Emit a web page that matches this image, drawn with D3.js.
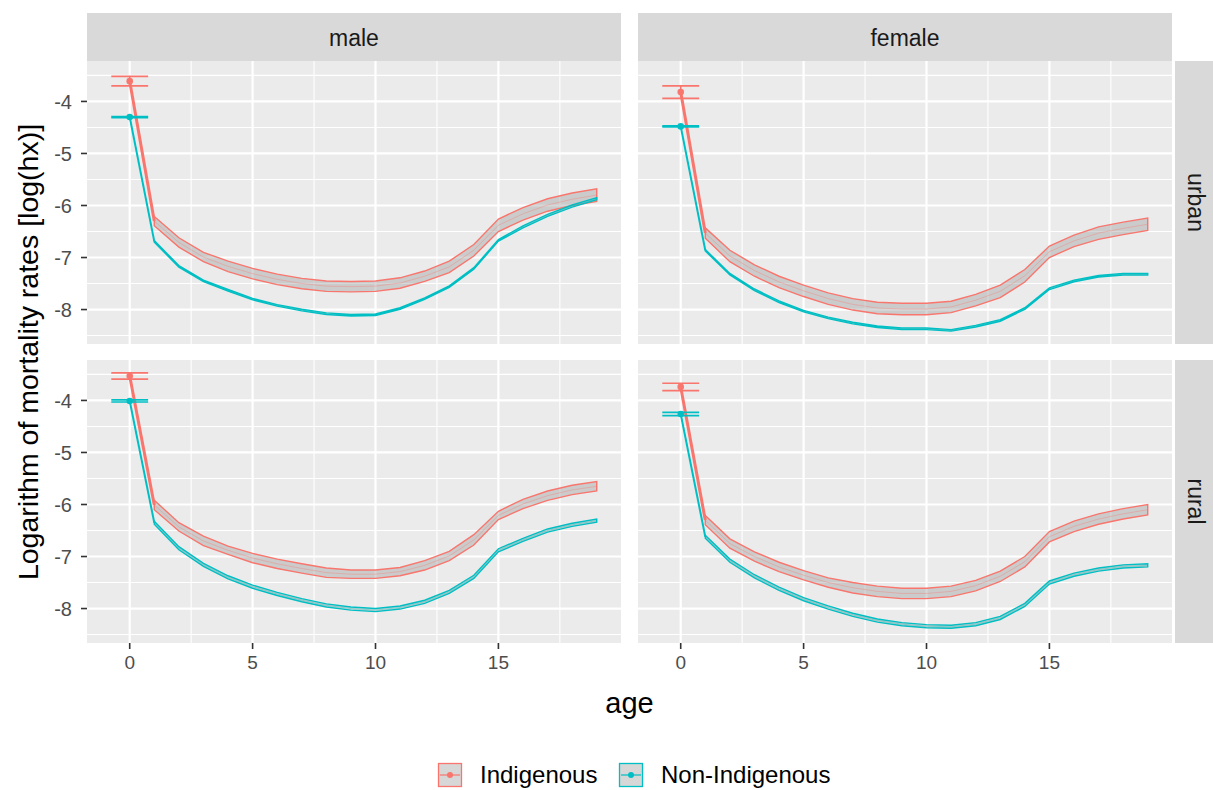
<!DOCTYPE html>
<html>
<head>
<meta charset="utf-8">
<script src="https://cdn.jsdelivr.net/npm/d3@7"></script>
<style>
  body { margin: 0; background: #fff; }
  text { font-family: "Liberation Sans", Arial, sans-serif; }
</style>
</head>
<body>
<div id="chart"></div>
<script>
// ---- data ----
var ages = [0, 1, 2, 3, 4, 5, 6, 7, 8, 9, 10, 11, 12, 13, 14, 15, 16, 17, 18, 19];
var sexes = ["male", "female"];
var areas = ["urban", "rural"];
var groups = ["Indigenous", "Non-Indigenous"];

// mean log(hx) per age, and half width of the interval (age 0 = error bar)
var maleUrbanInd = [-3.61, -6.30, -6.71, -6.99, -7.17, -7.31, -7.42, -7.50, -7.55, -7.56, -7.55, -7.49, -7.36, -7.18, -6.86, -6.38, -6.16, -5.99, -5.88, -5.80];
var maleUrbanIndSe = [0.09, 0.09, 0.09, 0.09, 0.10, 0.10, 0.10, 0.10, 0.10, 0.10, 0.10, 0.10, 0.10, 0.11, 0.11, 0.12, 0.12, 0.12, 0.12, 0.12];
var maleUrbanNon = [-4.30, -6.69, -7.17, -7.45, -7.63, -7.80, -7.92, -8.01, -8.08, -8.11, -8.10, -7.98, -7.79, -7.56, -7.21, -6.67, -6.41, -6.19, -6.01, -5.87];
var maleUrbanNonSe = [0.01, 0.015, 0.015, 0.015, 0.015, 0.015, 0.015, 0.015, 0.015, 0.015, 0.015, 0.015, 0.015, 0.015, 0.015, 0.015, 0.02, 0.02, 0.02, 0.02];

var femaleUrbanInd = [-3.82, -6.53, -6.97, -7.25, -7.47, -7.64, -7.79, -7.90, -7.97, -7.99, -7.99, -7.95, -7.82, -7.65, -7.35, -6.89, -6.68, -6.53, -6.44, -6.36];
var femaleUrbanIndSe = [0.12, 0.10, 0.11, 0.11, 0.11, 0.11, 0.11, 0.11, 0.11, 0.11, 0.11, 0.11, 0.11, 0.12, 0.12, 0.11, 0.11, 0.12, 0.12, 0.12];
var femaleUrbanNon = [-4.48, -6.86, -7.32, -7.62, -7.85, -8.03, -8.16, -8.26, -8.33, -8.37, -8.37, -8.40, -8.32, -8.21, -7.98, -7.60, -7.45, -7.36, -7.32, -7.32];
var femaleUrbanNonSe = [0.01, 0.015, 0.015, 0.015, 0.015, 0.015, 0.015, 0.015, 0.015, 0.015, 0.015, 0.015, 0.015, 0.015, 0.015, 0.015, 0.015, 0.015, 0.015, 0.015];

var maleRuralInd = [-3.53, -6.01, -6.43, -6.70, -6.88, -7.03, -7.14, -7.23, -7.31, -7.34, -7.34, -7.29, -7.17, -6.99, -6.68, -6.21, -5.99, -5.83, -5.72, -5.65];
var maleRuralIndSe = [0.06, 0.09, 0.08, 0.09, 0.08, 0.09, 0.09, 0.09, 0.09, 0.08, 0.08, 0.08, 0.09, 0.09, 0.10, 0.08, 0.09, 0.09, 0.09, 0.09];
var maleRuralNon = [-4.01, -6.35, -6.84, -7.16, -7.40, -7.58, -7.72, -7.84, -7.94, -8.00, -8.03, -7.98, -7.87, -7.68, -7.39, -6.88, -6.68, -6.50, -6.39, -6.31];
var maleRuralNonSe = [0.02, 0.03, 0.03, 0.03, 0.03, 0.03, 0.03, 0.03, 0.03, 0.03, 0.03, 0.03, 0.03, 0.03, 0.03, 0.03, 0.03, 0.03, 0.03, 0.03];

var femaleRuralInd = [-3.74, -6.30, -6.75, -7.00, -7.20, -7.36, -7.50, -7.60, -7.67, -7.71, -7.71, -7.67, -7.56, -7.38, -7.10, -6.62, -6.42, -6.28, -6.18, -6.10];
var femaleRuralIndSe = [0.07, 0.09, 0.09, 0.09, 0.09, 0.09, 0.09, 0.10, 0.10, 0.10, 0.10, 0.10, 0.10, 0.10, 0.10, 0.10, 0.10, 0.10, 0.10, 0.10];
var femaleRuralNon = [-4.26, -6.62, -7.08, -7.38, -7.62, -7.82, -7.98, -8.12, -8.23, -8.30, -8.34, -8.35, -8.30, -8.18, -7.93, -7.50, -7.35, -7.25, -7.19, -7.17];
var femaleRuralNonSe = [0.03, 0.03, 0.03, 0.03, 0.03, 0.03, 0.03, 0.03, 0.03, 0.03, 0.03, 0.03, 0.03, 0.03, 0.03, 0.03, 0.03, 0.03, 0.03, 0.03];

var xTicks = [0, 5, 10, 15];
var yTicks = [-8, -7, -6, -5, -4];

// ---- panels ----
var panels = [
  {sex: "male", area: "urban", series: [
    {group: "Indigenous", mean: maleUrbanInd, se: maleUrbanIndSe},
    {group: "Non-Indigenous", mean: maleUrbanNon, se: maleUrbanNonSe}]},
  {sex: "female", area: "urban", series: [
    {group: "Indigenous", mean: femaleUrbanInd, se: femaleUrbanIndSe},
    {group: "Non-Indigenous", mean: femaleUrbanNon, se: femaleUrbanNonSe}]},
  {sex: "male", area: "rural", series: [
    {group: "Indigenous", mean: maleRuralInd, se: maleRuralIndSe},
    {group: "Non-Indigenous", mean: maleRuralNon, se: maleRuralNonSe}]},
  {sex: "female", area: "rural", series: [
    {group: "Indigenous", mean: femaleRuralInd, se: femaleRuralIndSe},
    {group: "Non-Indigenous", mean: femaleRuralNon, se: femaleRuralNonSe}]}
];

var width = 1213, height = 790;
var panelLeft = [87, 638];
var panelTop = [61, 360];
var panelW = 534, panelH = 283;
var ebHalf = 0.75;

var color = d3.scaleOrdinal().domain(groups).range(["#F8766D", "#00BFC4"]);

// shared scales (ggplot style 5% expansion)
var xMin = -ebHalf, xMax = d3.max(ages);
var xPad = (xMax - xMin) * 0.05;
var x = d3.scaleLinear().domain([xMin - xPad, xMax + xPad]).range([0, panelW]);

var allLo = [], allHi = [];
panels.forEach(function(p) {
  p.series.forEach(function(s) {
    s.mean.forEach(function(m, i) { allLo.push(m - s.se[i]); allHi.push(m + s.se[i]); });
  });
});
var yMin = d3.min(allLo), yMax = d3.max(allHi);
var yPad = (yMax - yMin) * 0.05;
var y = d3.scaleLinear().domain([yMin - yPad, yMax + yPad]).range([panelH, 0]);

var svg = d3.select('#chart')
  .append('svg')
  .attr('width', width)
  .attr('height', height);

svg.append('rect').attr('width', width).attr('height', height).attr('fill', '#fff');

var xMinor = [2.5, 7.5, 12.5, 17.5];
var yMinor = [-8.5, -7.5, -6.5, -5.5, -4.5, -3.5].filter(function(v) {
  return v > y.domain()[0] && v < y.domain()[1];
});

panels.forEach(function(p) {
  var col = sexes.indexOf(p.sex), row = areas.indexOf(p.area);
  var g = svg.append('g')
    .attr('transform', 'translate(' + panelLeft[col] + ',' + panelTop[row] + ')');

  g.append('rect').attr('width', panelW).attr('height', panelH).attr('fill', '#EBEBEB');

  g.selectAll('.xminor').data(xMinor).enter().append('line')
    .attr('x1', function(d) { return x(d); }).attr('x2', function(d) { return x(d); })
    .attr('y1', 0).attr('y2', panelH)
    .attr('stroke', '#fff').attr('stroke-width', 1.1);
  g.selectAll('.yminor').data(yMinor).enter().append('line')
    .attr('y1', function(d) { return y(d); }).attr('y2', function(d) { return y(d); })
    .attr('x1', 0).attr('x2', panelW)
    .attr('stroke', '#fff').attr('stroke-width', 1.1);
  g.selectAll('.xmajor').data(xTicks).enter().append('line')
    .attr('x1', function(d) { return x(d); }).attr('x2', function(d) { return x(d); })
    .attr('y1', 0).attr('y2', panelH)
    .attr('stroke', '#fff').attr('stroke-width', 2.2);
  g.selectAll('.ymajor').data(yTicks).enter().append('line')
    .attr('y1', function(d) { return y(d); }).attr('y2', function(d) { return y(d); })
    .attr('x1', 0).attr('x2', panelW)
    .attr('stroke', '#fff').attr('stroke-width', 2.2);

  p.series.forEach(function(s) {
    var c = color(s.group);
    var pts = ages.map(function(a, i) { return {age: a, m: s.mean[i], se: s.se[i]}; });
    var rest = pts.slice(1);

    var area = d3.area()
      .x(function(d) { return x(d.age); })
      .y0(function(d) { return y(d.m - d.se); })
      .y1(function(d) { return y(d.m + d.se); });

    g.append('path').datum(rest)
      .attr('d', area)
      .attr('fill', '#9a9a9a').attr('fill-opacity', 0.4)
      .attr('stroke', c).attr('stroke-width', 1.4);

    var line = d3.line()
      .x(function(d) { return x(d.age); })
      .y(function(d) { return y(d.m); });

    g.append('path').datum(rest)
      .attr('d', line)
      .attr('fill', 'none').attr('stroke', c).attr('stroke-opacity', 0.35).attr('stroke-width', 1);

    g.append('path').datum(pts.slice(0, 2))
      .attr('d', line)
      .attr('fill', 'none').attr('stroke', c)
      .attr('stroke-width', s.group === "Indigenous" ? 3 : 2);

    // error bar at age 0
    var p0 = pts[0];
    [p0.m - p0.se, p0.m + p0.se].forEach(function(v) {
      g.append('line')
        .attr('x1', x(-ebHalf)).attr('x2', x(ebHalf))
        .attr('y1', y(v)).attr('y2', y(v))
        .attr('stroke', c).attr('stroke-width', 1.7);
    });
    g.append('line')
      .attr('x1', x(0)).attr('x2', x(0))
      .attr('y1', y(p0.m - p0.se)).attr('y2', y(p0.m + p0.se))
      .attr('stroke', c).attr('stroke-width', 1.7);
    g.append('circle')
      .attr('cx', x(0)).attr('cy', y(p0.m)).attr('r', 3.3)
      .attr('fill', c);
  });

  // y axis on left column
  if (col === 0) {
    yTicks.forEach(function(t) {
      svg.append('line')
        .attr('x1', panelLeft[0] - 6).attr('x2', panelLeft[0])
        .attr('y1', panelTop[row] + y(t)).attr('y2', panelTop[row] + y(t))
        .attr('stroke', '#333').attr('stroke-width', 1.6);
      svg.append('text')
        .attr('x', panelLeft[0] - 15).attr('y', panelTop[row] + y(t))
        .attr('dy', '0.36em').attr('text-anchor', 'end')
        .attr('font-size', 20).attr('fill', '#4D4D4D')
        .text(t);
    });
  }
  // x axis on bottom row
  if (row === 1) {
    xTicks.forEach(function(t) {
      svg.append('line')
        .attr('x1', panelLeft[col] + x(t)).attr('x2', panelLeft[col] + x(t))
        .attr('y1', panelTop[1] + panelH).attr('y2', panelTop[1] + panelH + 6)
        .attr('stroke', '#333').attr('stroke-width', 1.6);
      svg.append('text')
        .attr('x', panelLeft[col] + x(t)).attr('y', panelTop[1] + panelH + 26)
        .attr('text-anchor', 'middle')
        .attr('font-size', 19).attr('fill', '#4D4D4D')
        .text(t);
    });
  }
});

// strips
sexes.forEach(function(s, i) {
  svg.append('rect')
    .attr('x', panelLeft[i]).attr('y', 13).attr('width', panelW).attr('height', 48)
    .attr('fill', '#D9D9D9');
  svg.append('text')
    .attr('x', panelLeft[i] + panelW / 2).attr('y', 38).attr('dy', '0.35em')
    .attr('text-anchor', 'middle').attr('font-size', 23).attr('fill', '#1A1A1A')
    .text(s);
});
areas.forEach(function(a, i) {
  svg.append('rect')
    .attr('x', 1175).attr('y', panelTop[i]).attr('width', 48).attr('height', panelH)
    .attr('fill', '#D9D9D9');
  svg.append('text')
    .attr('transform', 'translate(1196,' + (panelTop[i] + panelH / 2) + ') rotate(90)')
    .attr('dy', '0.35em')
    .attr('text-anchor', 'middle').attr('font-size', 23).attr('fill', '#1A1A1A')
    .text(a);
});

// axis titles
svg.append('text')
  .attr('x', (panelLeft[0] + panelLeft[1] + panelW) / 2).attr('y', 713)
  .attr('text-anchor', 'middle').attr('font-size', 29).attr('fill', '#000')
  .text('age');
svg.append('text')
  .attr('transform', 'translate(28,' + (panelTop[0] + panelTop[1] + panelH) / 2 + ') rotate(-90)')
  .attr('dy', '0.35em')
  .attr('text-anchor', 'middle').attr('font-size', 28.5).attr('fill', '#000')
  .text('Logarithm of mortality rates [log(hx)]');

// legend
var legendX = [438, 619];
var keySize = 24;
var legend = svg.selectAll('.legend')
  .data(groups)
  .enter()
  .append('g')
  .attr('class', 'legend')
  .attr('transform', function(d, i) { return 'translate(' + legendX[i] + ',763)'; });

legend.append('rect')
  .attr('x', 0.5).attr('y', 0.5)
  .attr('width', keySize - 1).attr('height', keySize - 1)
  .attr('fill', '#9a9a9a').attr('fill-opacity', 0.4)
  .attr('stroke', color).attr('stroke-width', 1.3);
legend.append('line')
  .attr('x1', 2).attr('x2', keySize - 2)
  .attr('y1', keySize / 2).attr('y2', keySize / 2)
  .attr('stroke', color).attr('stroke-width', 1.2);
legend.append('circle')
  .attr('cx', keySize / 2).attr('cy', keySize / 2).attr('r', 3)
  .attr('fill', color);
legend.append('text')
  .attr('x', keySize + 18).attr('y', keySize / 2).attr('dy', '0.34em')
  .attr('font-size', 24).attr('fill', '#000')
  .text(function(d) { return d; });
</script>
</body>
</html>
